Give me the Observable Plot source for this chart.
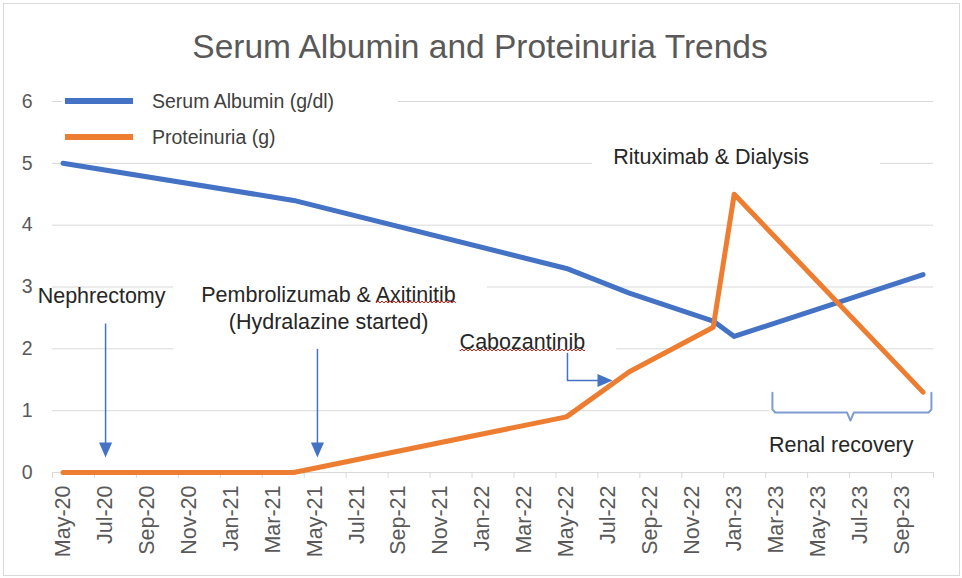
<!DOCTYPE html>
<html>
<head>
<meta charset="utf-8">
<script src="https://cdn.jsdelivr.net/npm/d3@7"></script>
<script src="https://cdn.jsdelivr.net/npm/@observablehq/plot@0.6"></script>
<style>
  html, body { margin: 0; padding: 0; background: #fff; }
  #wrap { position: relative; width: 962px; height: 578px; overflow: hidden; font-family: "Liberation Sans", Arial, sans-serif; }
  #border { position: absolute; left: 3px; top: 3px; width: 955px; height: 571px; border: 1px solid #d9d9d9; pointer-events: none; }
  #title { position: absolute; left: 0; width: 962px; top: 30px; text-align: center; font-size: 33.5px; line-height: 1; color: #595959; }
  #title span { position: relative; left: -1px; }
  #legend { position: absolute; left: 62px; top: 86px; width: 336px; height: 68px; background: #fff; }
  .sw { position: absolute; left: 3px; width: 68px; height: 6px; }
  .lab { position: absolute; left: 90px; font-size: 19.5px; line-height: 20px; color: #404040; white-space: nowrap; }
  #chart { position: absolute; left: 0; top: 0; }
</style>
</head>
<body>
<div id="wrap">
  <div id="chart"></div>
  <div id="title"><span>Serum Albumin and Proteinuria Trends</span></div>
  <div id="legend"></div>
  <div id="border"></div>
</div>
<script>
// ---- categories (monthly date axis) ----
const months = [
  "May-20","Jun-20","Jul-20","Aug-20","Sep-20","Oct-20","Nov-20","Dec-20",
  "Jan-21","Feb-21","Mar-21","Apr-21","May-21","Jun-21","Jul-21","Aug-21","Sep-21","Oct-21","Nov-21","Dec-21",
  "Jan-22","Feb-22","Mar-22","Apr-22","May-22","Jun-22","Jul-22","Aug-22","Sep-22","Oct-22","Nov-22","Dec-22",
  "Jan-23","Feb-23","Mar-23","Apr-23","May-23","Jun-23","Jul-23","Aug-23","Sep-23","Oct-23"
];
const tickLabels = [
  "May-20","Jul-20","Sep-20","Nov-20","Jan-21","Mar-21","May-21","Jul-21","Sep-21","Nov-21",
  "Jan-22","Mar-22","May-22","Jul-22","Sep-22","Nov-22","Jan-23","Mar-23","May-23","Jul-23","Sep-23"
];
const yTicks = [0, 1, 2, 3, 4, 5, 6];

// ---- series ----
const seriesNames = ["Serum Albumin (g/dl)", "Proteinuria (g)"];
const seriesColors = ["#4472C4", "#ED7D31"];
const albuminDates = ["May-20", "Apr-21", "May-22", "Aug-22", "Dec-22", "Jan-23", "Oct-23"];
const albuminValues = [5.0, 4.4, 3.3, 2.9, 2.45, 2.2, 3.2];
const proteinuriaDates = ["May-20", "Apr-21", "May-22", "Aug-22", "Dec-22", "Jan-23", "Oct-23"];
const proteinuriaValues = [0, 0, 0.9, 1.63, 2.35, 4.5, 1.3];

// ---- annotations (in data units: month index, value) ----
const annotationTexts = ["Nephrectomy", "Pembrolizumab & Axitinitib\n(Hydralazine started)", "Cabozantinib", "Rituximab & Dialysis", "Renal recovery"];
const annotationX = [1.84, 12.66, 21.9, 30.9, 37.1];
const annotationY = [2.88, 2.68, 2.13, 5.13, 0.47];
const misspelled = ["Axitinitib", "Cabozantinib"];

const boxX1 = [5.27, 18.0, 25.24, 33.7];
const boxX2 = [20.24, 26.4, 38.97, 41.5];
const boxY1 = [1.94, 1.86, 4.80, 0.76];
const boxY2 = [3.14, 2.38, 5.37, 1.36];

const arrowX = [2.03, 12.13];
const arrowY1 = [2.41, 2.0];
const arrowY2 = [0.45, 0.45];
const headX = [2.03, 12.13, 25.84];
const headY = [0.364, 0.364, 1.488];
const headRotate = [0, 0, -90];
const connectorX = [24.05, 24.05, 25.5];
const connectorY = [1.925, 1.488, 1.488];
const braceX = [33.82, 33.82, 33.95, 37.38, 37.54, 37.70, 41.27, 41.4, 41.4];
const braceY = [1.29, 1.02, 0.97, 0.97, 0.84, 0.97, 0.97, 1.02, 1.29];

const idx = m => months.indexOf(m);
const rows = [];
albuminDates.forEach((d, i) => rows.push({series: seriesNames[0], i: idx(d), v: albuminValues[i]}));
proteinuriaDates.forEach((d, i) => rows.push({series: seriesNames[1], i: idx(d), v: proteinuriaValues[i]}));

const annotations = annotationTexts.map((t, k) => ({t, x: annotationX[k], y: annotationY[k]}));
const boxes = boxX1.map((x1, k) => ({x1, x2: boxX2[k], y1: boxY1[k], y2: boxY2[k]}));
const arrows = arrowX.map((x, k) => ({x, y1: arrowY1[k], y2: arrowY2[k]}));
const heads = headX.map((x, k) => ({x, y: headY[k], r: headRotate[k]}));
const connector = connectorX.map((x, k) => ({x, y: connectorY[k]}));
const brace = braceX.map((x, k) => ({x, y: braceY[k]}));
const boundaries = d3.range(-0.5, months.length, 2).concat([months.length - 0.5]);

const arrowHead = {
  draw(ctx, size) {
    const s = Math.sqrt(size / Math.PI);
    ctx.moveTo(0, s);
    ctx.lineTo(-0.87 * s, -s);
    ctx.lineTo(0.87 * s, -s);
    ctx.closePath();
  }
};

const chart = Plot.plot({
  width: 962,
  height: 578,
  marginLeft: 52,
  marginRight: 29,
  marginTop: 101,
  marginBottom: 106,
  style: {fontFamily: "'Liberation Sans', Arial, sans-serif", background: "transparent", overflow: "visible"},
  x: {type: "linear", domain: [-0.5, months.length - 0.5]},
  y: {domain: [0, 6]},
  color: {domain: seriesNames, range: seriesColors},
  marks: [
    Plot.gridY(yTicks.slice(1), {stroke: "#d9d9d9", strokeOpacity: 1}),
    Plot.ruleY([0], {stroke: "#d9d9d9"}),
    Plot.axisX(boundaries, {tickSize: 6, tickFormat: () => "", stroke: "#d9d9d9", label: null}),
    Plot.axisX(tickLabels.map(idx), {tickSize: 0, tickPadding: 13, tickRotate: -90, tickFormat: i => months[i], fontSize: 21.5, fill: "#595959", label: null}),
    Plot.axisY(yTicks, {tickSize: 0, tickPadding: 20, tickFormat: d => String(d), fontSize: 19.5, fill: "#595959", label: null}),
    Plot.rect(boxes, {x1: "x1", x2: "x2", y1: "y1", y2: "y2", fill: "white"}),
    Plot.line(rows, {x: "i", y: "v", z: "series", stroke: "series", strokeWidth: 5, strokeLinejoin: "round", strokeLinecap: "round"}),
    Plot.link(arrows, {x1: "x", x2: "x", y1: "y1", y2: "y2", stroke: "#4472C4", strokeWidth: 1.5}),
    Plot.line(connector, {x: "x", y: "y", stroke: "#4472C4", strokeWidth: 1.5}),
    Plot.dot(heads, {x: "x", y: "y", r: 7.5, rotate: "r", symbol: arrowHead, fill: "#4472C4", stroke: "none"}),
    Plot.line(brace, {x: "x", y: "y", stroke: "#7F9BD2", strokeWidth: 2, strokeLinejoin: "round"}),
    Plot.text(annotations, {x: "x", y: "y", text: "t", fontSize: 21.5, lineHeight: 1.26, fill: "#262626", textAnchor: "middle", lineAnchor: "middle"})
  ]
});
document.getElementById("chart").appendChild(chart);

// spell-check style red wavy underline under the misspelled words
const SVGNS = "http://www.w3.org/2000/svg";
const defs = document.createElementNS(SVGNS, "defs");
defs.innerHTML = '<pattern id="wavy" patternUnits="userSpaceOnUse" width="4" height="4"><polyline points="0,3 2,1 4,3" fill="none" stroke="#e0201b" stroke-width="1"/></pattern>';
chart.appendChild(defs);
const svgBox = chart.getBoundingClientRect();
chart.querySelectorAll("text, tspan").forEach(el => {
  if (el.children.length) return;
  const s = el.textContent;
  for (const w of misspelled) {
    const p = s.indexOf(w);
    if (p < 0) continue;
    el.textContent = "";
    if (p > 0) el.appendChild(document.createTextNode(s.slice(0, p)));
    const ts = document.createElementNS(SVGNS, "tspan");
    ts.textContent = w;
    el.appendChild(ts);
    if (p + w.length < s.length) el.appendChild(document.createTextNode(s.slice(p + w.length)));
    const b = ts.getBoundingClientRect();
    const r = document.createElementNS(SVGNS, "rect");
    r.setAttribute("x", b.left - svgBox.left);
    r.setAttribute("y", b.bottom - svgBox.top - 6);
    r.setAttribute("width", b.width);
    r.setAttribute("height", 4);
    r.setAttribute("fill", "url(#wavy)");
    chart.appendChild(r);
    break;
  }
});

// legend (HTML, drawn from the series arrays)
const legend = document.getElementById("legend");
seriesNames.forEach((name, k) => {
  const sw = document.createElement("div");
  sw.className = "sw";
  sw.style.top = (12 + 36 * k) + "px";
  sw.style.background = seriesColors[k];
  legend.appendChild(sw);
  const lab = document.createElement("div");
  lab.className = "lab";
  lab.style.top = (5 + 36 * k) + "px";
  lab.textContent = name;
  legend.appendChild(lab);
});
</script>
</body>
</html>
